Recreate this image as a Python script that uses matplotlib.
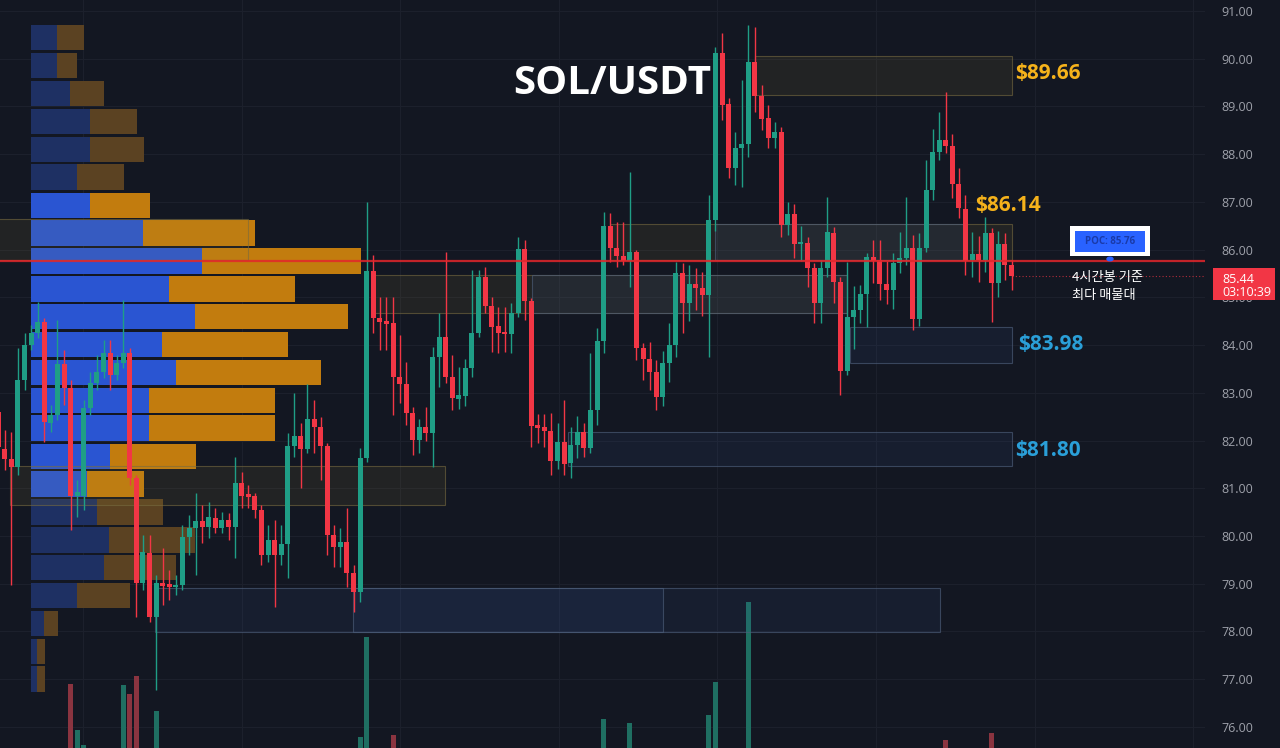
import numpy as np
import matplotlib
matplotlib.use("Agg")
import matplotlib.pyplot as plt
from matplotlib.patches import Rectangle

# ---- candle data (4h SOL/USDT), oldest first ----
opens = [82.60, 81.82, 81.61, 81.45, 83.27, 84.00, 84.25, 84.48, 82.37, 82.54,
         83.60, 83.10, 80.84, 80.84, 82.68, 83.21, 83.44, 83.83, 83.37, 83.62,
         83.83, 81.22, 79.02, 79.65, 78.30, 79.02, 79.00, 78.93, 78.97, 79.98,
         80.17, 80.31, 80.19, 80.38, 80.17, 80.34, 80.19, 81.11, 80.88, 80.84,
         80.55, 79.60, 79.92, 79.60, 79.83, 81.89, 82.10, 81.82, 82.45, 82.28,
         81.89, 80.02, 79.77, 79.87, 79.23, 78.83, 81.63, 85.55, 84.57, 84.51,
         84.46, 83.33, 83.18, 82.58, 82.01, 82.28, 82.16, 83.75, 84.17, 83.33,
         82.87, 82.94, 83.52, 84.25, 85.43, 84.82, 84.40, 84.27, 84.23, 84.67,
         86.01, 84.93, 82.33, 82.28, 82.20, 81.57, 81.97, 81.53, 81.91, 82.18,
         81.85, 82.64, 84.09, 86.50, 86.04, 85.86, 85.76, 85.95, 83.94, 83.71,
         83.44, 82.91, 83.62, 84.00, 85.51, 84.88, 85.28, 85.20, 85.05, 86.62,
         90.12, 89.05, 87.71, 88.13, 88.21, 89.93, 89.22, 88.76, 88.34, 88.47,
         86.52, 86.75, 86.12, 86.14, 85.62, 84.88, 85.62, 86.35, 85.32, 83.46,
         84.59, 84.74, 85.07, 85.85, 85.78, 85.28, 85.16, 85.72, 85.82, 86.03,
         84.55, 86.03, 87.25, 88.05, 88.30, 88.17, 87.38, 86.85, 85.78, 85.91,
         85.78, 86.35, 85.30, 86.12, 85.68]
highs = [82.85, 82.22, 82.18, 83.94, 84.25, 84.42, 84.90, 84.57, 82.75, 84.53,
         83.90, 83.27, 81.17, 82.85, 83.44, 83.79, 84.11, 84.11, 83.79, 84.95,
         83.94, 81.28, 80.02, 80.02, 79.18, 79.75, 79.29, 79.18, 80.23, 80.44,
         80.90, 80.65, 80.71, 80.59, 80.50, 80.48, 81.65, 81.34, 81.07, 80.90,
         80.65, 80.23, 80.34, 80.23, 82.16, 83.00, 82.37, 83.18, 82.85, 82.49,
         81.95, 80.23, 80.17, 80.59, 79.39, 81.84, 87.00, 85.89, 85.01, 85.01,
         85.01, 84.21, 83.65, 82.70, 82.45, 82.70, 83.96, 84.67, 85.95, 83.79,
         83.54, 83.71, 85.57, 85.57, 85.64, 85.01, 84.80, 84.80, 84.88, 86.26,
         86.20, 84.99, 82.56, 82.56, 82.58, 82.37, 82.85, 82.29, 82.52, 82.37,
         83.83, 84.36, 86.79, 86.77, 86.58, 86.58, 87.63, 86.00, 84.04, 84.06,
         83.69, 83.88, 84.46, 85.74, 85.72, 85.68, 85.62, 85.53, 87.15, 90.25,
         90.54, 89.18, 88.47, 89.55, 90.71, 90.67, 89.45, 89.03, 88.68, 88.57,
         86.99, 86.96, 86.50, 86.26, 85.72, 85.78, 87.11, 86.48, 85.43, 85.74,
         85.24, 85.26, 85.93, 86.20, 86.20, 85.76, 85.93, 86.37, 87.11, 86.31,
         86.35, 87.88, 88.53, 88.89, 89.30, 88.43, 87.71, 87.15, 86.37, 86.28,
         86.69, 86.46, 86.39, 86.35, 85.78]
lows = [81.59, 81.38, 78.97, 81.28, 83.06, 83.90, 84.15, 81.97, 82.18, 82.43,
        82.75, 80.13, 80.40, 80.55, 82.54, 83.06, 83.31, 83.06, 83.27, 83.52,
        81.07, 78.30, 78.87, 78.20, 76.77, 78.56, 78.66, 78.76, 78.87, 79.60,
        79.18, 79.85, 79.96, 80.06, 80.06, 79.92, 79.54, 80.59, 80.59, 80.38,
        79.39, 79.46, 78.51, 79.39, 79.12, 81.66, 81.01, 81.74, 81.74, 81.17,
        79.60, 79.35, 79.35, 78.93, 78.41, 78.62, 81.55, 84.25, 83.90, 83.90,
        82.54, 82.79, 82.33, 81.70, 81.74, 81.99, 81.45, 83.12, 83.21, 82.64,
        82.66, 82.72, 83.33, 84.17, 84.67, 83.86, 83.83, 83.86, 83.83, 84.59,
        84.53, 81.87, 81.95, 81.87, 81.28, 81.40, 81.28, 81.22, 81.64, 81.66,
        81.74, 82.33, 83.83, 85.74, 85.64, 85.68, 85.22, 83.69, 83.27, 83.06,
        82.64, 82.72, 83.23, 83.75, 84.25, 84.50, 84.74, 84.61, 83.75, 86.40,
        88.72, 87.50, 87.36, 87.31, 87.94, 88.88, 88.51, 88.13, 88.13, 86.26,
        86.31, 85.82, 85.76, 85.22, 84.46, 84.46, 85.43, 84.88, 82.96, 83.37,
        83.92, 84.46, 84.38, 85.30, 84.95, 84.86, 84.76, 85.51, 85.68, 84.32,
        84.40, 85.95, 87.04, 87.88, 88.03, 87.08, 86.66, 85.47, 85.43, 85.32,
        85.53, 84.49, 85.00, 85.37, 85.16]
closes = [81.87, 81.61, 81.45, 83.27, 84.00, 84.25, 84.48, 82.39, 82.54, 83.60,
          83.10, 80.84, 80.92, 82.68, 83.21, 83.44, 83.83, 83.37, 83.62, 83.83,
          81.22, 79.02, 79.67, 78.30, 79.02, 78.95, 78.93, 78.97, 79.98, 80.17,
          80.31, 80.19, 80.40, 80.17, 80.34, 80.19, 81.11, 80.84, 80.82, 80.55,
          79.60, 79.92, 79.60, 79.83, 81.89, 82.10, 81.82, 82.45, 82.28, 81.89,
          80.02, 79.77, 79.87, 79.23, 78.83, 81.63, 85.55, 84.57, 84.48, 84.44,
          83.33, 83.18, 82.58, 82.01, 82.28, 82.16, 83.75, 84.17, 83.33, 82.89,
          82.95, 83.52, 84.25, 85.43, 84.82, 84.38, 84.25, 84.23, 84.67, 86.01,
          84.93, 82.31, 82.26, 82.20, 81.57, 81.97, 81.51, 81.91, 82.18, 81.85,
          82.64, 84.09, 86.50, 86.04, 85.86, 85.76, 85.95, 83.94, 83.71, 83.44,
          82.91, 83.62, 84.00, 85.51, 84.88, 85.28, 85.20, 85.05, 86.62, 90.12,
          89.03, 87.71, 88.13, 88.21, 89.93, 89.22, 88.74, 88.34, 88.47, 86.52,
          86.75, 86.12, 86.16, 85.62, 84.88, 85.62, 86.37, 85.32, 83.46, 84.59,
          84.74, 85.07, 85.85, 85.76, 85.28, 85.16, 85.72, 85.82, 86.03, 84.55,
          86.03, 87.25, 88.05, 88.30, 88.17, 87.38, 86.87, 85.76, 85.91, 85.78,
          86.35, 85.30, 86.12, 85.68, 85.44]
volumes = [22, 18, 30, 35, 20, 15, 17, 33, 14, 27, 19, 104, 58, 43, 25, 18, 16, 20, 14,
           103, 94, 112, 36, 38, 77, 22, 12, 10, 25, 15, 20, 12, 14, 10, 11, 9, 26, 13,
           9, 12, 24, 15, 21, 13, 34, 18, 19, 22, 14, 16, 30, 17, 12, 20, 25, 51, 151,
           30, 14, 12, 53, 16, 22, 28, 13, 10, 30, 18, 26, 19, 10, 17, 24, 28, 18, 16,
           11, 9, 14, 34, 27, 38, 12, 10, 22, 15, 20, 14, 12, 13, 21, 30, 69, 25, 14,
           11, 65, 36, 15, 14, 20, 18, 16, 34, 22, 15, 10, 11, 73, 106, 37, 30, 18, 24,
           186, 36, 20, 15, 12, 33, 14, 18, 10, 20, 24, 22, 30, 21, 35, 28, 16, 12, 15,
           22, 12, 14, 12, 13, 18, 29, 27, 30, 24, 16, 48, 26, 20, 30, 14, 11, 19, 55,
           22, 17, 14]

# ---- volume profile (price bin centre, buy / sell volume, value-area flag) ----
vp_price = [90.44, 89.86, 89.27, 88.69, 88.10, 87.52, 86.93, 86.35, 85.76, 85.18,
            84.60, 84.01, 83.43, 82.84, 82.26, 81.67, 81.09, 80.50, 79.92, 79.34,
            78.75, 78.17, 77.58, 77.00]
vp_buy = [26, 26, 39, 59, 59, 46, 59, 112, 171, 138, 164, 131, 145, 118, 118, 79,
          56, 66, 78, 73, 46, 13, 6, 6]
vp_sell = [27, 20, 34, 47, 54, 47, 60, 112, 159, 126, 153, 126, 145, 126, 126, 86,
           57, 66, 86, 72, 53, 14, 8, 8]
vp_value_area = [0, 0, 0, 0, 0, 0, 1, 1, 1, 1, 1, 1, 1, 1, 1, 1, 1, 0, 0, 0, 0, 0, 0, 0]

# ---- zones: start bar, end bar, low, high, kind ----
zones = [
    (115.0, 154.1, 89.24, 90.06, "supply"),
    (93.0, 154.1, 85.78, 86.54, "supply"),
    (109.0, 146.6, 85.78, 86.54, "demand"),
    (57.0, 129.0, 84.67, 85.47, "supply"),
    (81.1, 129.0, 84.67, 85.47, "demand"),
    (129.4, 154.1, 83.63, 84.38, "demand"),
    (86.6, 154.1, 81.46, 82.18, "demand"),
    (1.8, 67.9, 80.65, 81.46, "supply"),
    (23.8, 143.1, 77.99, 78.91, "demand"),
    (53.9, 101.0, 77.99, 78.91, "demand"),
    (0.0, 38.0, 85.78, 86.64, "supply"),
]

poc = 85.76
last_price = 85.44
price_ticks = list(range(76, 92))

# ---- style ----
BG = "#131722"
UP = "#1f9e86"
DOWN = "#f23645"
GRID = "#1c202c"
W, H = 1280, 748


def fpos(x, y):
    return x / W, 1 - y / H


fig = plt.figure(figsize=(W / 100, H / 100), dpi=100, facecolor=BG)
pos = [0, 0, 1205 / W, 1]
ylim = (75.559, 91.2305)
xlim = (0.27, 183.40)

# grid layer (bottom)
ax_g = fig.add_axes(pos, zorder=0)
ax_g.set_facecolor(BG)
ax_g.set_xlim(*xlim)
ax_g.set_ylim(*ylim)
ax_g.axis("off")
for t in price_ticks:
    ax_g.axhline(t, color=GRID, lw=0.8)
for gx in np.arange(12.9, 184, 24.1):
    ax_g.axvline(gx, color=GRID, lw=0.8)

# volume profile axes
ax_vp = fig.add_axes(pos, zorder=1)
ax_vp.patch.set_alpha(0)
ax_vp.set_xlim(-31, 1174)
ax_vp.set_ylim(*ylim)
ax_vp.axis("off")
for p, b, s, va in zip(vp_price, vp_buy, vp_sell, vp_value_area):
    cb = "#2a55d2" if va else "#1e3063"
    cs = "#c27c0e" if va else "#5b4222"
    ax_vp.barh(p, b, height=0.534, left=0, color=cb, linewidth=0)
    ax_vp.barh(p, s, height=0.534, left=b, color=cs, linewidth=0)

# volume axes
ax_v = fig.add_axes(pos, zorder=2)
ax_v.patch.set_alpha(0)
ax_v.set_xlim(*xlim)
ax_v.set_ylim(40, 788)
ax_v.axis("off")

o = np.array(opens)
h = np.array(highs)
l = np.array(lows)
c = np.array(closes)
x = np.arange(len(o))
up = c >= o
vol_col = np.where(up, "#1f6f62", "#8a3440")
ax_v.bar(x, volumes, width=0.76, color=vol_col, linewidth=0)

# main price axes
ax = fig.add_axes(pos, zorder=3)
ax.patch.set_alpha(0)
ax.set_xlim(*xlim)
ax.set_ylim(*ylim)
for s in ax.spines.values():
    s.set_visible(False)

# zones
for x0, x1, lo, hi, kind in zones:
    if kind == "supply":
        fc, ec = (0.62, 0.55, 0.22, 0.11), (0.47, 0.42, 0.25, 0.6)
    else:
        fc, ec = (0.22, 0.36, 0.62, 0.11), (0.30, 0.37, 0.48, 0.65)
    ax.add_patch(Rectangle((x0, lo), x1 - x0, hi - lo, facecolor=fc,
                           edgecolor=ec, lw=0.8, zorder=1))

# candles
col = np.where(up, UP, DOWN)
ax.vlines(x, l, h, colors=col, lw=1.0, zorder=3)
body = np.maximum(np.abs(c - o), 0.03)
ax.bar(x, body, bottom=np.minimum(o, c), width=0.76, color=col, linewidth=0, zorder=4)

# POC and last price lines
ax.hlines(poc, xlim[0], xlim[1], colors="#e3262b", lw=1.6, alpha=0.85, zorder=5)
ax.hlines(last_price, x[-1], xlim[1], colors=DOWN, lw=0.8, linestyles=(0, (1, 2)),
          alpha=0.7, zorder=5)

# right price scale
ax.yaxis.tick_right()
ax.set_yticks(price_ticks)
ax.set_yticklabels([f"{t:.2f}" for t in price_ticks], fontsize=9, color="#9ea1aa",
                   family="Open Sans")
ax.tick_params(axis="y", length=0, pad=12)
ax.set_xticks([])

# last price box
fig.patches.append(Rectangle(fpos(1213, 300), 62 / W, 32 / H, transform=fig.transFigure,
                             facecolor=DOWN, edgecolor="none", zorder=10))
fig.text(*fpos(1222, 283), f"{last_price:.2f}", color="white", fontsize=9,
         family="Open Sans", va="baseline", zorder=11)
fig.text(*fpos(1222, 296), "03:10:39", color="white", fontsize=9,
         family="Open Sans", va="baseline", zorder=11)

# annotations
fig.text(*fpos(612, 94), "SOL/USDT", color="white", fontsize=29, fontweight="bold",
         family="Open Sans", ha="center", va="baseline", zorder=11)
gold = "#f5b21b"
blue = "#2a9fd8"
fig.text(*fpos(1015, 79), "$89.66", color=gold, fontsize=15, fontweight="bold",
         family="Open Sans", va="baseline", zorder=11)
fig.text(*fpos(975, 211), "$86.14", color=gold, fontsize=15, fontweight="bold",
         family="Open Sans", va="baseline", zorder=11)
fig.text(*fpos(1018, 350), "$83.98", color=blue, fontsize=15, fontweight="bold",
         family="Open Sans", va="baseline", zorder=11)
fig.text(*fpos(1015, 456), "$81.80", color=blue, fontsize=15, fontweight="bold",
         family="Open Sans", va="baseline", zorder=11)

# POC tag
fig.patches.append(Rectangle(fpos(1070, 256), 80 / W, 30 / H, transform=fig.transFigure,
                             facecolor="white", edgecolor="none", zorder=10))
fig.patches.append(Rectangle(fpos(1075, 252), 70 / W, 21 / H, transform=fig.transFigure,
                             facecolor="#2962ff", edgecolor="none", zorder=10))
fig.text(*fpos(1110, 241.5), f"POC: {poc:.2f}", color="#1a3aa8", fontsize=7,
         fontweight="bold", family="Open Sans", ha="center", va="center", zorder=11)
fig.add_artist(plt.Circle(fpos(1110, 259), 3 / W, transform=fig.transFigure,
                          color="#2962ff", zorder=10))

kr = ["Noto Sans CJK KR", "DejaVu Sans"]
fig.text(*fpos(1072, 281), "4시간봉 기준", color="white", fontsize=9.5, family=kr,
         va="baseline", zorder=11)
fig.text(*fpos(1072, 299), "최다 매물대", color="white", fontsize=9.5, family=kr,
         va="baseline", zorder=11)

fig.savefig("out.png", dpi=100, facecolor=BG)
